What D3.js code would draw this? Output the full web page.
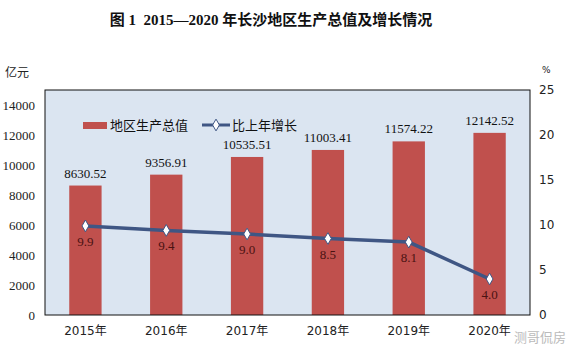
<!DOCTYPE html>
<html>
<head>
<meta charset="utf-8">
<script src="https://cdn.jsdelivr.net/npm/d3@7"></script>
<style>
  body { margin: 0; background: #fff; }
  svg { display: block; }
</style>
</head>
<body>
<svg id="drawing_region"></svg>
<script>
// 数据
var years = ['2015年', '2016年', '2017年', '2018年', '2019年', '2020年'];
var gdp = [8630.52, 9356.91, 10535.51, 11003.41, 11574.22, 12142.52];
var growth = [9.9, 9.4, 9.0, 8.5, 8.1, 4.0];
var leftTicks = [0, 2000, 4000, 6000, 8000, 10000, 12000, 14000];
var rightTicks = [0, 5, 10, 15, 20, 25];

var config = {
  width: 569,
  height: 352,
  margin: {top: 90, right: 39, bottom: 37, left: 45}
};

var svg = d3.select('#drawing_region')
  .attr('width', config.width)
  .attr('height', config.height);

var inner_width = config.width - config.margin.left - config.margin.right;
var inner_height = config.height - config.margin.top - config.margin.bottom;

var chart = svg.append('g')
  .attr('transform', `translate(${config.margin.left}, ${config.margin.top})`);

var xscale = d3.scaleBand()
  .domain(years)
  .range([0, inner_width])
  .paddingInner(0.6)
  .paddingOuter(0.3);

var yscale = d3.scaleLinear().domain([0, 15000]).range([inner_height, 0]);
var y2scale = d3.scaleLinear().domain([0, 25]).range([inner_height, 0]);

// title
svg.append('text')
  .attr('x', 271).attr('y', 25)
  .attr('text-anchor', 'middle')
  .style('white-space', 'pre')
  .style('font-family', '"Liberation Serif", "Noto Sans CJK SC", serif')
  .style('font-weight', 'bold')
  .style('font-size', '15px')
  .attr('fill', '#111')
  .text('图 1  2015—2020 年长沙地区生产总值及增长情况');

// units
svg.append('text')
  .attr('x', 5).attr('y', 77)
  .style('font-family', '"Noto Sans CJK SC", sans-serif')
  .style('font-size', '12px')
  .attr('fill', '#222')
  .text('亿元');
svg.append('text')
  .attr('x', 542).attr('y', 73)
  .style('font-family', '"DejaVu Sans", sans-serif')
  .style('font-size', '9px')
  .attr('fill', '#222')
  .text('%');

// plot background
chart.append('rect')
  .attr('x', 0).attr('y', 0)
  .attr('width', inner_width).attr('height', inner_height)
  .attr('fill', '#dbe5f1');

// bars
chart.selectAll('rect.bar')
  .data(gdp)
  .enter()
  .append('rect')
  .attr('class', 'bar')
  .attr('x', (d, i) => xscale(years[i]))
  .attr('y', d => yscale(d))
  .attr('width', xscale.bandwidth())
  .attr('height', d => inner_height - yscale(d))
  .attr('fill', '#c0504d');

// bar labels
chart.selectAll('text.barlabel')
  .data(gdp)
  .enter()
  .append('text')
  .attr('class', 'barlabel')
  .attr('x', (d, i) => xscale(years[i]) + xscale.bandwidth() / 2)
  .attr('y', d => yscale(d) - 8)
  .attr('text-anchor', 'middle')
  .style('font-family', '"Liberation Serif", serif')
  .style('font-size', '13px')
  .attr('fill', '#111')
  .text(d => d.toFixed(2));

// growth line
var line = d3.line()
  .x((d, i) => xscale(years[i]) + xscale.bandwidth() / 2)
  .y(d => y2scale(d));

chart.append('path')
  .datum(growth)
  .attr('d', line)
  .attr('fill', 'none')
  .attr('stroke', '#3f5684')
  .attr('stroke-width', 3.5);

var diamond = d3.symbol().type(d3.symbolDiamond).size(40);
chart.selectAll('path.marker')
  .data(growth)
  .enter()
  .append('path')
  .attr('class', 'marker')
  .attr('d', diamond)
  .attr('transform', (d, i) => `translate(${xscale(years[i]) + xscale.bandwidth() / 2}, ${y2scale(d)})`)
  .attr('fill', '#fff')
  .attr('stroke', '#3f5684')
  .attr('stroke-width', 1);

chart.selectAll('text.linelabel')
  .data(growth)
  .enter()
  .append('text')
  .attr('class', 'linelabel')
  .attr('x', (d, i) => xscale(years[i]) + xscale.bandwidth() / 2)
  .attr('y', d => y2scale(d) + 20)
  .attr('text-anchor', 'middle')
  .style('font-family', '"Liberation Serif", serif')
  .style('font-size', '13px')
  .attr('fill', '#4a1212')
  .text(d => d.toFixed(1));

// frame
chart.append('rect')
  .attr('x', 0).attr('y', 0)
  .attr('width', inner_width).attr('height', inner_height)
  .attr('fill', 'none')
  .attr('stroke', '#111')
  .attr('stroke-width', 1);

// axes
var xaxis = d3.axisBottom(xscale).tickSize(0).tickPadding(11);
var xaxis_group = chart.append('g')
  .attr('transform', `translate(0, ${inner_height})`)
  .call(xaxis);
xaxis_group.select('.domain').remove();
xaxis_group.selectAll('text')
  .style('font-family', '"DejaVu Sans", "Noto Sans CJK SC", sans-serif')
  .style('font-size', '12px')
  .attr('fill', '#222');

var yaxis = d3.axisLeft(yscale).tickValues(leftTicks).tickFormat(d3.format('d')).tickSize(0).tickPadding(10);
var yaxis_group = chart.append('g').call(yaxis);
yaxis_group.select('.domain').remove();
yaxis_group.selectAll('text')
  .style('font-family', '"Liberation Serif", serif')
  .style('font-size', '13px')
  .attr('fill', '#222');

var y2axis = d3.axisRight(y2scale).tickValues(rightTicks).tickSize(0).tickPadding(9);
var y2axis_group = chart.append('g')
  .attr('transform', `translate(${inner_width}, 0)`)
  .call(y2axis);
y2axis_group.select('.domain').remove();
y2axis_group.selectAll('text')
  .style('font-family', '"DejaVu Sans", sans-serif')
  .style('font-size', '12px')
  .attr('fill', '#222');

// legend
var legend = svg.append('g');
legend.append('rect')
  .attr('x', 83).attr('y', 122)
  .attr('width', 24).attr('height', 7)
  .attr('fill', '#c0504d');
legend.append('text')
  .attr('x', 110).attr('y', 130)
  .style('font-family', '"Noto Sans CJK SC", sans-serif')
  .style('font-size', '13px')
  .attr('fill', '#111')
  .text('地区生产总值');
legend.append('line')
  .attr('x1', 202).attr('x2', 230)
  .attr('y1', 125).attr('y2', 125)
  .attr('stroke', '#3f5684')
  .attr('stroke-width', 3);
legend.append('path')
  .attr('d', diamond)
  .attr('transform', 'translate(216, 125)')
  .attr('fill', '#fff')
  .attr('stroke', '#3f5684');
legend.append('text')
  .attr('x', 232).attr('y', 130)
  .style('font-family', '"Noto Sans CJK SC", sans-serif')
  .style('font-size', '13px')
  .attr('fill', '#111')
  .text('比上年增长');

// watermark
svg.append('text')
  .attr('x', 566).attr('y', 342)
  .attr('text-anchor', 'end')
  .style('font-family', '"Noto Sans CJK SC", sans-serif')
  .style('font-size', '13px')
  .attr('fill', '#bbb')
  .text('测哥侃房');
</script>
</body>
</html>
